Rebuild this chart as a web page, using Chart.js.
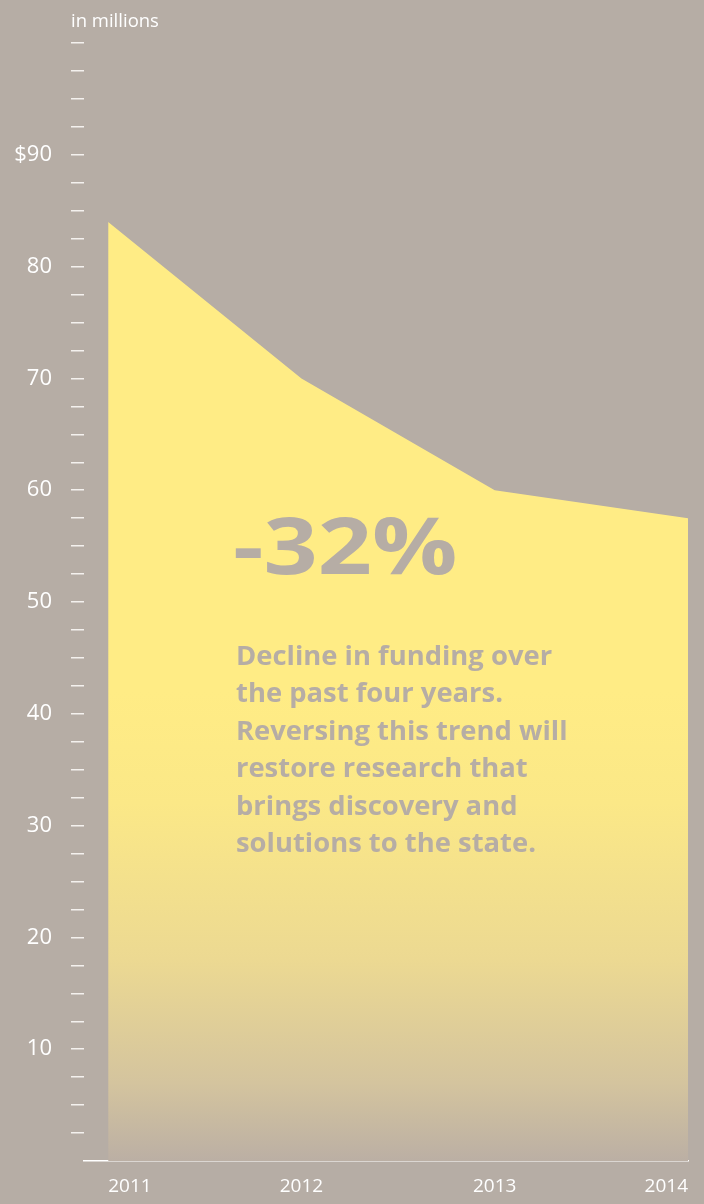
<!DOCTYPE html>
<html lang="en">
<head>
    <meta charset="UTF-8">
    <title>Funding decline</title>
    <script src="https://cdn.jsdelivr.net/npm/chart.js"></script>
    <style>
        html, body { margin: 0; padding: 0; background: #b6ada5; }
        #wrap { width: 704px; height: 1204px; position: relative; }
    </style>
</head>
<body>
    <div id="wrap"><canvas id="grafica"></canvas></div>
    <script>
        // datos (millones de dolares)
        const years = [2011, 2012, 2013, 2014];
        const funding = [84, 70, 60, 57.5];
        const yLabelValues = [10, 20, 30, 40, 50, 60, 70, 80, 90];
        const yTickLabels = ['10', '20', '30', '40', '50', '60', '70', '80', '$90'];
        const unitLabel = 'in millions';
        const bigNumber = '-32%';
        const message = [
            'Decline in funding over',
            'the past four years.',
            'Reversing this trend will',
            'restore research that',
            'brings discovery and',
            'solutions to the state.'
        ];

        const BG = '#b6ada5';
        const FONT = "'Open Sans', 'DejaVu Sans', sans-serif";

        function areaGradient(context) {
            const area = context.chart.chartArea;
            if (!area) return '#ffec85';
            const g = context.chart.ctx.createLinearGradient(0, area.top, 0, area.bottom);
            g.addColorStop(0, '#ffec85');
            g.addColorStop(0.58, '#ffec85');
            g.addColorStop(0.68, '#fbe887');
            g.addColorStop(0.82, '#ecd992');
            g.addColorStop(0.93, '#d4c49e');
            g.addColorStop(1, '#bbafa4');
            return g;
        }

        // textos sobre el grafico
        const textos = {
            id: 'textos',
            afterDraw(chart) {
                const ctx = chart.ctx;
                ctx.save();
                ctx.fillStyle = '#ffffff';
                ctx.font = '18.5px ' + FONT;
                ctx.textBaseline = 'alphabetic';
                ctx.textAlign = 'left';
                ctx.fillText(unitLabel, 71, 27);

                ctx.fillStyle = BG;
                ctx.save();
                ctx.translate(233, 574);
                ctx.scale(1.2, 1);
                ctx.font = 'bold 79px ' + FONT;
                ctx.fillText(bigNumber, 0, 0);
                ctx.restore();

                ctx.font = 'bold 27.4px ' + FONT;
                message.forEach((line, i) => {
                    ctx.fillText(line, 236, 665 + i * 37.4);
                });
                ctx.restore();
            }
        };

        new Chart(document.getElementById('grafica'), {
            type: 'line',
            data: {
                labels: years,
                datasets: [{
                    data: years.map((y, i) => ({ x: y, y: funding[i] })),
                    fill: 'origin',
                    backgroundColor: areaGradient,
                    borderWidth: 0,
                    pointRadius: 0,
                    tension: 0
                }]
            },
            options: {
                responsive: true,
                maintainAspectRatio: false,
                animation: false,
                layout: { padding: { top: 43, right: 16, left: 0, bottom: 0 } },
                plugins: {
                    legend: { display: false },
                    tooltip: { enabled: false }
                },
                scales: {
                    x: {
                        type: 'linear',
                        min: 2010.875,
                        max: 2014,
                        afterBuildTicks: (scale) => {
                            scale.ticks = years.map(v => ({ value: v }));
                        },
                        afterFit: (scale) => { scale.height = 43; },
                        grid: { drawOnChartArea: false, drawTicks: false },
                        border: { display: true, color: '#ffffff', width: 1.5 },
                        ticks: {
                            align: 'inner',
                            padding: 14,
                            color: '#ffffff',
                            font: { family: FONT, size: 19 },
                            callback: (v) => String(v)
                        }
                    },
                    y: {
                        min: 0,
                        max: 100,
                        afterFit: (scale) => { scale.width = 84; },
                        border: { display: false },
                        grid: {
                            drawOnChartArea: false,
                            tickLength: 13,
                            lineWidth: 1.5,
                            color: (c) => c.tick && c.tick.value === 0 ? 'rgba(0,0,0,0)' : '#f4f1ee'
                        },
                        ticks: {
                            stepSize: 2.5,
                            autoSkip: false,
                            padding: 19,
                            color: '#ffffff',
                            font: { family: FONT, size: 22 },
                            callback: (v) => {
                                const i = yLabelValues.indexOf(v);
                                return i >= 0 ? yTickLabels[i] : '';
                            }
                        }
                    }
                }
            },
            plugins: [textos]
        });
    </script>
</body>
</html>
